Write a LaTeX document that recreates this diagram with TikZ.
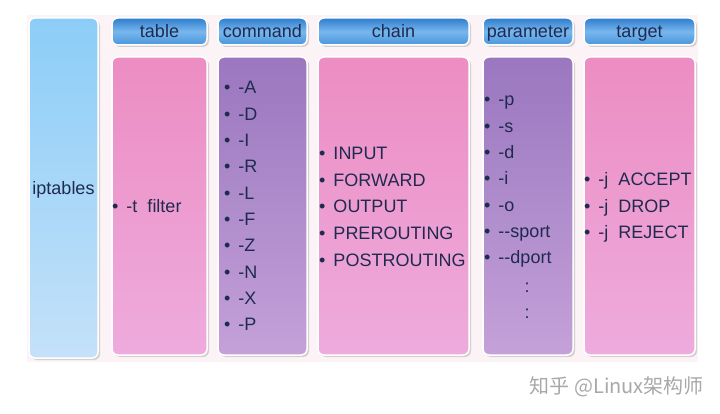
\documentclass[tikz,border=0pt]{standalone}
\usepackage{fontspec}
\setmainfont{Liberation Sans}
\newfontfamily\cjk{Noto Sans CJK SC}
\usetikzlibrary{shadows}

\definecolor{textnavy}{HTML}{1F2A4F}
\definecolor{panelbg}{HTML}{FCF3F6}
\definecolor{bluetop}{HTML}{8CCDF7}
\definecolor{bluebot}{HTML}{C4E1F9}
\definecolor{pinktop}{HTML}{EC8DC3}
\definecolor{pinkbot}{HTML}{EEABDD}
\definecolor{purpletop}{HTML}{9A77BF}
\definecolor{purplebot}{HTML}{C4A1D8}
\definecolor{headtop}{HTML}{2F7DCD}
\definecolor{headmid}{HTML}{78B7EE}
\definecolor{headbot}{HTML}{4A95DB}
\definecolor{marktext}{HTML}{A8A8A8}

\newcommand{\itembullet}{\textbullet\hspace{8pt}}

\tikzset{
  colbox/.style={draw=white, line width=1.5pt, rounded corners=6pt,
    text=textnavy, text depth=0pt, font=\fontsize{18}{21}\selectfont,
    drop shadow={shadow xshift=2pt, shadow yshift=-2pt, opacity=0.25, fill=black!60}},
  headbox/.style={colbox, top color=headtop, bottom color=headbot, middle color=headmid,
    minimum height=27pt, text height=13pt},
  pinkfill/.style={top color=pinktop, bottom color=pinkbot},
  purplefill/.style={top color=purpletop, bottom color=purplebot},
  entry/.style={anchor=base west, inner sep=0pt, text=textnavy, font=\fontsize{18}{21}\selectfont}
}

\begin{document}
\begin{tikzpicture}[x=1pt,y=-1pt]
		% Fix the page size and draw the light panel
		\useasboundingbox (0,0) rectangle (720,414);
		\fill[panelbg] (27,15) rectangle (698,362);
		% Draw the iptables column
		\node[colbox, top color=bluetop, bottom color=bluebot, minimum width=69pt,
			minimum height=340pt, text height=13pt] (iptables) at (63.5,188) {iptables};
		% Draw headers and bodies of the columns
		\foreach \name/\cx/\w/\fillstyle in {table/159.5/95/pinkfill,
			command/262.5/89/purplefill,
			chain/393.5/151/pinkfill,
			parameter/528/90/purplefill,
			target/639.5/111/pinkfill}
		{\node[headbox, minimum width=\w pt] (head-\name) at (\cx,31.5) {\name};
			\node[colbox, \fillstyle, minimum width=\w pt, minimum height=298pt] (body-\name) at (\cx,206) {};}
		% Draw the list items
		\node[entry] (table-1) at (112,212) {\itembullet -t\ \ filter};
		\foreach \item [count=\i] in {-A,-D,-I,-R,-L,-F,-Z,-N,-X,-P}
		{\node[entry] (command-\i) at (224,{94+26.3*(\i-1)}) {\itembullet\item};}
		\foreach \item [count=\i] in {INPUT,FORWARD,OUTPUT,PREROUTING,POSTROUTING}
		{\node[entry] (chain-\i) at (319,{160+26.5*(\i-1)}) {\itembullet\item};}
		\foreach \item [count=\i] in {-p,-s,-d,-i,-o,-{}-sport,-{}-dport}
		{\node[entry] (parameter-\i) at (484,{106+26.3*(\i-1)}) {\itembullet\item};}
		\node[entry, anchor=base] (parameter-more1) at (527,292) {:};
		\node[entry, anchor=base] (parameter-more2) at (527,318) {:};
		\foreach \item [count=\i] in {ACCEPT,DROP,REJECT}
		{\node[entry] (target-\i) at (584,{186+26.3*(\i-1)}) {\itembullet-j\ \ \item};}
		% Watermark
		\node[anchor=base east, inner sep=0pt, text=marktext, font=\cjk\fontsize{20}{24}\selectfont]
			(watermark) at (704,393) {知乎 @Linux架构师};
	\end{tikzpicture}
\end{document}
